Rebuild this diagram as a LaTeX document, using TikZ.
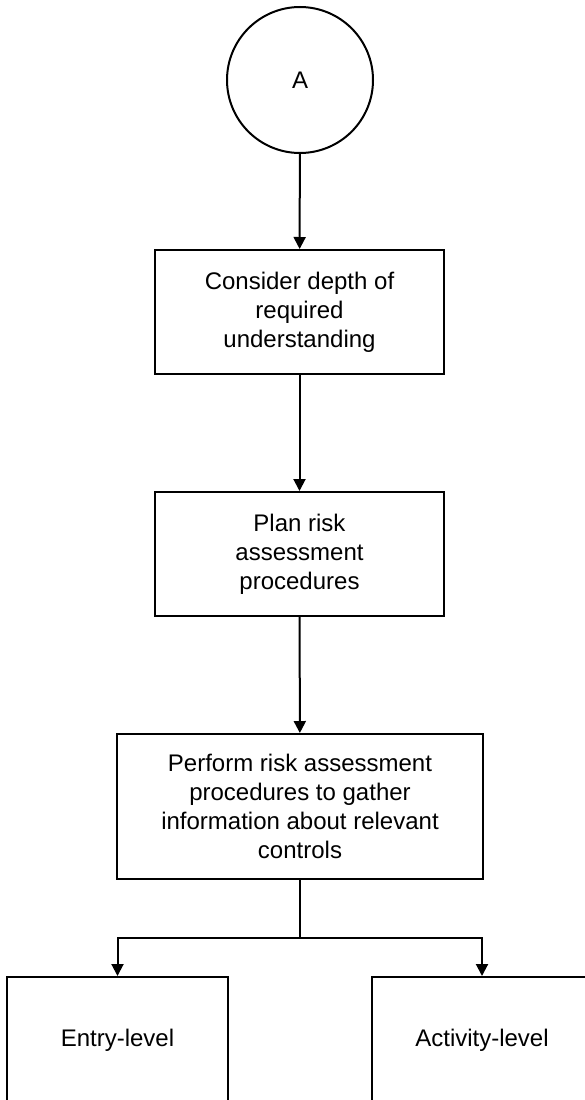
\documentclass[tikz,border=0pt]{standalone}
\usepackage{fontspec}
\setmainfont{Liberation Sans}
\usetikzlibrary{arrows.meta}
\begin{document}
\begin{tikzpicture}[x=1pt,y=-1pt,
  box/.style={draw, line width=2pt, rectangle, inner sep=0pt, align=center,
    font=\fontsize{24}{29}\selectfont},
  conn/.style={line width=2pt, -{Triangle[length=12pt,width=12pt]}},
  plain/.style={line width=2pt}]
\useasboundingbox (0,0) rectangle (585,1100);
\clip (0,0) rectangle (585,1100);
\fill[white] (0,0) rectangle (585,1100);
\node[draw, circle, minimum size=146pt, line width=2pt, inner sep=0pt,
  font=\fontsize{24}{29}\selectfont] (A) at (300,80) {A};
\node[box, minimum width=289pt, minimum height=124pt] (b1) at (299.5,312)
  {Consider depth of\\required\\understanding};
\node[box, minimum width=289pt, minimum height=124pt] (b2) at (299.5,554)
  {Plan risk\\assessment\\procedures};
\node[box, minimum width=366pt, minimum height=145pt] (b3) at (300,806.5)
  {Perform risk assessment\\procedures to gather\\information about relevant\\controls};
\node[box, minimum width=221pt, minimum height=126pt] (e) at (117.5,1040) {Entry-level};
\node[box, minimum width=221pt, minimum height=126pt] (act) at (482,1040) {Activity-level};
\coordinate (j) at (300,938);
\draw[conn] (A) -- (b1);
\draw[conn] (b1) -- (b2);
\draw[conn] (b2) -- (b3);
\draw[plain] (b3.south) -- (j);
\draw[conn] (j) -| (e.north);
\draw[conn] (j) -| (act.north);
\end{tikzpicture}
\end{document}
